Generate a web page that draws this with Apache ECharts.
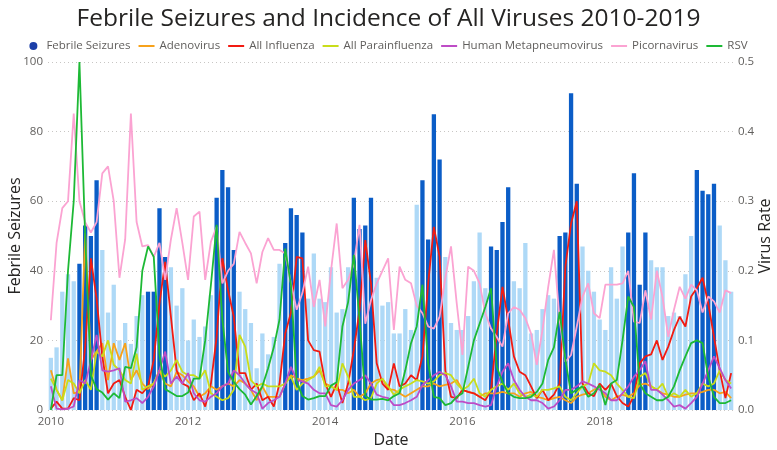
<!DOCTYPE html>
<html>
<head>
<meta charset="utf-8">
<script src="https://cdn.jsdelivr.net/npm/echarts@6/dist/echarts.min.js"></script>
<style>
html,body{margin:0;padding:0;background:#fff;}
#chart{width:777px;height:450px;}
</style>
</head>
<body>
<div id="chart"></div>
<script>
const years = [2010,2011,2012,2013,2014,2015,2016,2017,2018,2019];
const winterMonths = [6,7,8,9];
const yLeftTicks = [0,20,40,60,80,100];
const yRightTicks = [0.0,0.1,0.2,0.3,0.4,0.5];

const febrileSeizures = [
 15,18,34,39,37,42,53,50,66,46,28,36,
 20,25,19,27,33,34,34,58,44,41,30,35,
 20,26,21,24,33,61,69,64,46,34,29,25,
 12,22,16,21,42,48,58,56,51,32,45,32,
 31,41,28,29,41,61,52,53,61,38,30,31,
 22,22,29,23,59,66,49,85,72,44,25,23,
 23,27,37,51,35,47,46,54,64,37,35,48,
 22,23,29,33,32,50,51,91,65,47,40,34,
 26,23,41,32,47,51,68,36,51,43,41,41,
 27,28,27,39,50,69,63,62,65,53,43,34
];
const adenovirus = [
 0.057,0.029,0.014,0.074,0.024,0.026,0.254,0.072,0.084,0.096,0.043,0.096,
 0.072,0.096,0.043,0.057,0.038,0.030,0.038,0.057,0.038,0.034,0.055,0.050,
 0.041,0.034,0.019,0.024,0.034,0.029,0.034,0.038,0.034,0.043,0.038,0.029,
 0.014,0.034,0.019,0.019,0.019,0.038,0.050,0.045,0.043,0.045,0.048,0.057,
 0.038,0.034,0.029,0.029,0.024,0.029,0.019,0.024,0.038,0.043,0.045,0.030,
 0.029,0.024,0.019,0.024,0.029,0.034,0.034,0.038,0.034,0.036,0.038,0.043,
 0.029,0.026,0.024,0.019,0.024,0.024,0.024,0.026,0.024,0.024,0.019,0.024,
 0.026,0.019,0.017,0.014,0.017,0.019,0.014,0.010,0.019,0.022,0.024,0.029,
 0.034,0.019,0.014,0.019,0.022,0.019,0.024,0.036,0.038,0.034,0.029,0.024,
 0.022,0.019,0.019,0.022,0.024,0.024,0.026,0.029,0.029,0.024,0.026,0.017
];
const allInfluenza = [
 0.002,0.012,0.002,0.002,0.017,0.014,0.090,0.218,0.160,0.077,0.024,0.038,
 0.043,0.019,0.000,0.029,0.024,0.034,0.072,0.153,0.213,0.134,0.057,0.038,
 0.034,0.014,0.024,0.005,0.038,0.105,0.218,0.172,0.134,0.053,0.053,0.029,
 0.038,0.014,0.019,0.005,0.038,0.110,0.140,0.220,0.218,0.100,0.086,0.084,
 0.038,0.019,0.038,0.010,0.038,0.086,0.144,0.244,0.182,0.067,0.038,0.029,
 0.067,0.034,0.038,0.050,0.043,0.077,0.182,0.263,0.220,0.057,0.019,0.017,
 0.029,0.026,0.024,0.019,0.014,0.029,0.110,0.177,0.130,0.077,0.055,0.050,
 0.034,0.017,0.029,0.014,0.022,0.038,0.206,0.268,0.300,0.038,0.024,0.020,
 0.038,0.029,0.038,0.020,0.010,0.005,0.020,0.067,0.077,0.080,0.100,0.072,
 0.091,0.115,0.134,0.120,0.163,0.175,0.190,0.153,0.105,0.057,0.017,0.053
];
const allParainfluenza = [
 0.045,0.029,0.014,0.043,0.038,0.024,0.043,0.029,0.084,0.077,0.100,0.065,
 0.057,0.043,0.038,0.081,0.029,0.034,0.038,0.057,0.048,0.057,0.072,0.055,
 0.050,0.050,0.045,0.057,0.024,0.019,0.014,0.017,0.029,0.108,0.091,0.043,
 0.034,0.038,0.034,0.034,0.034,0.038,0.048,0.029,0.038,0.043,0.048,0.062,
 0.034,0.034,0.029,0.067,0.048,0.019,0.019,0.014,0.017,0.038,0.045,0.034,
 0.022,0.029,0.034,0.038,0.043,0.041,0.038,0.041,0.050,0.053,0.050,0.038,
 0.029,0.034,0.045,0.024,0.019,0.029,0.034,0.038,0.029,0.038,0.024,0.019,
 0.022,0.019,0.029,0.029,0.031,0.034,0.019,0.014,0.024,0.034,0.038,0.067,
 0.057,0.055,0.050,0.038,0.029,0.019,0.017,0.048,0.053,0.034,0.029,0.038,
 0.019,0.024,0.019,0.029,0.019,0.024,0.038,0.034,0.038,0.057,0.043,0.038
];
const humanMetapneumovirus = [
 0.034,0.002,0.001,0.002,0.005,0.043,0.038,0.070,0.108,0.057,0.055,0.057,
 0.060,0.012,0.014,0.017,0.010,0.019,0.034,0.057,0.084,0.038,0.048,0.038,
 0.053,0.024,0.014,0.012,0.019,0.024,0.034,0.038,0.057,0.050,0.038,0.029,
 0.024,0.002,0.010,0.014,0.019,0.038,0.062,0.043,0.041,0.038,0.029,0.024,
 0.024,0.007,0.005,0.014,0.029,0.038,0.043,0.050,0.038,0.022,0.019,0.017,
 0.007,0.007,0.010,0.014,0.019,0.036,0.043,0.050,0.055,0.050,0.034,0.012,
 0.012,0.010,0.010,0.007,0.005,0.007,0.034,0.055,0.067,0.043,0.029,0.019,
 0.014,0.014,0.010,0.002,0.005,0.014,0.029,0.029,0.034,0.041,0.038,0.034,
 0.029,0.024,0.014,0.014,0.024,0.034,0.048,0.057,0.070,0.029,0.029,0.022,
 0.014,0.005,0.007,0.002,0.010,0.019,0.038,0.057,0.077,0.060,0.043,0.031
];
const picornavirus = [
 0.129,0.240,0.290,0.300,0.426,0.300,0.270,0.255,0.270,0.340,0.350,0.300,
 0.190,0.245,0.426,0.270,0.235,0.237,0.220,0.240,0.187,0.245,0.290,0.240,
 0.187,0.278,0.285,0.187,0.242,0.263,0.182,0.200,0.210,0.256,0.240,0.225,
 0.182,0.227,0.247,0.230,0.230,0.225,0.182,0.144,0.168,0.206,0.148,0.187,
 0.120,0.200,0.268,0.175,0.187,0.210,0.266,0.124,0.158,0.182,0.200,0.218,
 0.115,0.206,0.187,0.182,0.150,0.139,0.120,0.117,0.134,0.190,0.235,0.153,
 0.079,0.206,0.200,0.182,0.139,0.117,0.105,0.091,0.139,0.148,0.144,0.132,
 0.110,0.065,0.115,0.177,0.230,0.129,0.069,0.079,0.120,0.163,0.182,0.139,
 0.132,0.180,0.180,0.180,0.182,0.200,0.127,0.125,0.172,0.130,0.200,0.162,
 0.105,0.144,0.177,0.160,0.180,0.172,0.140,0.163,0.156,0.140,0.172,0.168
];
const rsv = [
 0.000,0.050,0.050,0.200,0.300,0.500,0.250,0.050,0.030,0.025,0.015,0.024,
 0.017,0.062,0.060,0.090,0.200,0.235,0.220,0.080,0.030,0.025,0.020,0.020,
 0.025,0.045,0.045,0.100,0.180,0.266,0.130,0.055,0.040,0.030,0.022,0.008,
 0.020,0.034,0.060,0.090,0.130,0.232,0.180,0.040,0.020,0.015,0.017,0.020,
 0.020,0.035,0.040,0.120,0.155,0.223,0.130,0.020,0.015,0.015,0.016,0.014,
 0.020,0.024,0.057,0.096,0.120,0.180,0.067,0.019,0.017,0.007,0.010,0.019,
 0.024,0.062,0.100,0.124,0.148,0.175,0.062,0.040,0.024,0.019,0.017,0.017,
 0.019,0.026,0.038,0.072,0.090,0.141,0.072,0.024,0.029,0.034,0.019,0.024,
 0.036,0.007,0.038,0.043,0.100,0.163,0.148,0.038,0.024,0.019,0.014,0.014,
 0.019,0.034,0.057,0.077,0.096,0.100,0.096,0.048,0.019,0.010,0.010,0.014
];

const categories = [];
const monthOf = [];
years.forEach(y => { for (let m = 1; m <= 12; m++) { categories.push(y + '-' + (m < 10 ? '0' + m : m)); monthOf.push(m); } });

const darkBlue = '#0B5DC7';
const lightBlue = '#AED9F7';
const barData = febrileSeizures.map((v, i) => ({
  value: v,
  itemStyle: { color: winterMonths.indexOf(monthOf[i]) >= 0 ? darkBlue : lightBlue }
}));

const lineDefs = [
  ['Adenovirus', adenovirus, '#F7A21B'],
  ['All Influenza', allInfluenza, '#F21B12'],
  ['All Parainfluenza', allParainfluenza, '#C9DD1A'],
  ['Human Metapneumovirus', humanMetapneumovirus, '#BE4CC6'],
  ['Picornavirus', picornavirus, '#FBA3D2'],
  ['RSV', rsv, '#1DB935']
];

const FONT = '"Open Sans", "Noto Sans", sans-serif';

const series = [{
  name: 'Febrile Seizures',
  type: 'bar',
  yAxisIndex: 0,
  data: barData,
  itemStyle: { color: darkBlue },
  barWidth: 4.3,
  z: 1
}].concat(lineDefs.map(d => ({
  name: d[0],
  type: 'line',
  yAxisIndex: 1,
  data: d[1],
  showSymbol: false,
  symbol: 'none',
  lineStyle: { width: 1.8, color: d[2] },
  itemStyle: { color: d[2] },
  z: 3
})));

const chart = echarts.init(document.getElementById('chart'));
chart.setOption({
  animation: false,
  backgroundColor: '#fff',
  title: {
    text: 'Febrile Seizures and Incidence of All Viruses 2010-2019',
    left: 'center',
    top: 2,
    textStyle: { fontFamily: FONT, fontSize: 24.5, fontWeight: 'normal', color: '#252423' }
  },
  legend: {
    top: 35,
    left: 'center',
    itemGap: 8,
    itemWidth: 16,
    itemHeight: 8,
    textStyle: { fontFamily: FONT, fontSize: 11.5, color: '#605E5C' },
    data: [
      { name: 'Febrile Seizures', icon: 'circle', itemStyle: { color: '#1B3FA8' } },
      ...lineDefs.map(d => ({ name: d[0], icon: 'path://M0,0 L20,0 L20,2.5 L0,2.5 Z' }))
    ]
  },
  grid: { left: 48, right: 43, top: 62, bottom: 40, containLabel: false, outerBoundsMode: 'none' },
  xAxis: {
    type: 'category',
    data: categories,
    boundaryGap: true,
    name: 'Date',
    nameLocation: 'middle',
    nameGap: 22,
    nameMoveOverlap: false,
    nameTextStyle: { fontFamily: FONT, fontSize: 16, color: '#252423', verticalAlign: 'top' },
    axisLine: { show: false },
    axisTick: { show: false },
    axisLabel: {
      interval: (idx, val) => monthOf[idx] === 1 && (years[0] + Math.floor(idx / 12)) % 2 === 0,
      formatter: v => v.slice(0, 4),
      margin: 6,
      fontFamily: FONT, fontSize: 11.5, color: '#605E5C'
    },
    splitLine: { show: false }
  },
  yAxis: [{
    type: 'value',
    min: yLeftTicks[0],
    max: yLeftTicks[yLeftTicks.length - 1],
    interval: 20,
    name: 'Febrile Seizures',
    nameLocation: 'middle',
    nameRotate: 90,
    nameGap: 33,
    nameMoveOverlap: false,
    nameTextStyle: { fontFamily: FONT, fontSize: 16, color: '#252423', verticalAlign: 'middle' },
    axisLine: { show: false },
    axisTick: { show: false },
    axisLabel: { margin: 5, fontFamily: FONT, fontSize: 11.5, color: '#605E5C' },
    splitLine: { show: true, lineStyle: { type: [1, 3], color: '#C8C6C4', width: 1 } }
  }, {
    type: 'value',
    position: 'right',
    min: yRightTicks[0],
    max: yRightTicks[yRightTicks.length - 1],
    interval: 0.1,
    name: 'Virus Rate',
    nameLocation: 'middle',
    nameRotate: 90,
    nameGap: 31,
    nameMoveOverlap: false,
    nameTextStyle: { fontFamily: FONT, fontSize: 16, color: '#252423', verticalAlign: 'middle' },
    axisLine: { show: false },
    axisTick: { show: false },
    axisLabel: { margin: 4, formatter: v => v.toFixed(1), fontFamily: FONT, fontSize: 11.5, color: '#605E5C' },
    splitLine: { show: false }
  }],
  series: series
});
</script>
</body>
</html>
